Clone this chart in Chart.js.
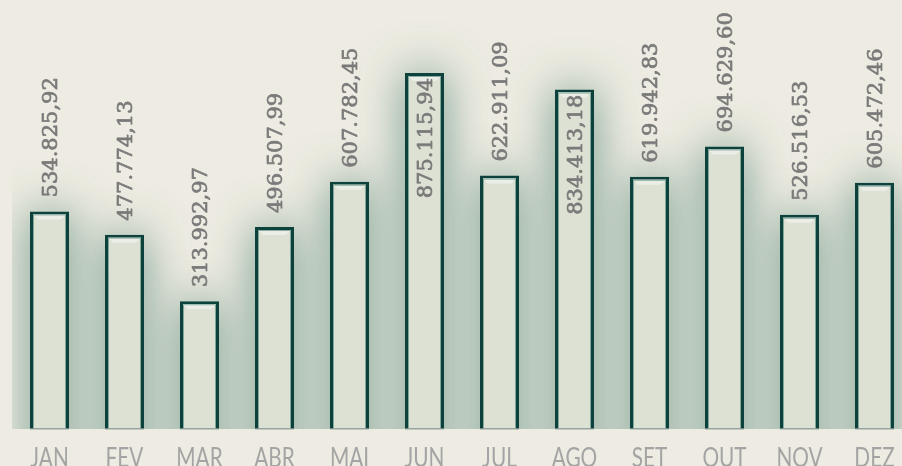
<!DOCTYPE html>
<html>
<head>
<meta charset="utf-8">
<script src="https://cdn.jsdelivr.net/npm/chart.js@4/dist/chart.umd.min.js"></script>
<style>
  html, body { margin: 0; padding: 0; background: #eeece2; overflow: hidden; }
  #wrap { position: absolute; left: 0; top: 0; width: 914px; height: 466px; }
</style>
</head>
<body>
<div id="wrap"><canvas id="c"></canvas></div>
<script>
const categories = ['JAN', 'FEV', 'MAR', 'ABR', 'MAI', 'JUN', 'JUL', 'AGO', 'SET', 'OUT', 'NOV', 'DEZ'];
const values = [534825.92, 477774.13, 313992.97, 496507.99, 607782.45, 875115.94, 622911.09, 834413.18, 619942.83, 694629.60, 526516.53, 605472.46];
const yMin = 0;
const yMax = 1054600;

function fmtBR(v) {
  const parts = v.toFixed(2).split('.');
  const int = parts[0].replace(/\B(?=(\d{3})+(?!\d))/g, '.');
  return int + ',' + parts[1];
}

const glowPlugin = {
  id: 'glow',
  beforeDatasetsDraw(chart) {
    const ctx = chart.ctx;
    const area = chart.chartArea;
    const meta = chart.getDatasetMeta(0);
    ctx.save();
    ctx.beginPath();
    ctx.rect(area.left, area.top, area.right - area.left, area.bottom - area.top);
    ctx.clip();
    const off = 3000;
    ctx.shadowColor = 'rgba(60, 115, 100, 0.7)';
    ctx.shadowBlur = 46;
    ctx.shadowOffsetX = off;
    ctx.fillStyle = '#000';
    meta.data.forEach(bar => {
      const p = bar.getProps(['x', 'y', 'base', 'width'], true);
      ctx.fillRect(p.x - p.width / 2 - off, p.y, p.width, area.bottom + 60 - p.y);
    });
    ctx.restore();
  }
};

const bevelPlugin = {
  id: 'bevel',
  afterDatasetDraw(chart) {
    const ctx = chart.ctx;
    const meta = chart.getDatasetMeta(0);
    ctx.save();
    meta.data.forEach(bar => {
      const p = bar.getProps(['x', 'y', 'base', 'width'], true);
      const l = p.x - p.width / 2 + 3, r = p.x + p.width / 2 - 3;
      const t = p.y + 3, b = p.base - 1;
      ctx.fillStyle = 'rgba(236, 240, 232, 0.9)';
      ctx.beginPath();
      ctx.moveTo(l, t);
      ctx.lineTo(r, t);
      ctx.lineTo(r - 5, t + 5);
      ctx.lineTo(l + 5, t + 5);
      ctx.closePath();
      ctx.fill();
      ctx.strokeStyle = 'rgba(70, 130, 118, 0.6)';
      ctx.lineWidth = 1;
      ctx.beginPath();
      ctx.moveTo(l + 0.5, b);
      ctx.lineTo(l + 0.5, t + 0.5);
      ctx.lineTo(r - 0.5, t + 0.5);
      ctx.lineTo(r - 0.5, b);
      ctx.stroke();
      ctx.fillStyle = 'rgba(130, 150, 145, 0.8)';
      ctx.fillRect(l - 3, b, r - l + 6, 1.5);
    });
    ctx.restore();
  }
};

const labelPlugin = {
  id: 'valueLabels',
  afterDatasetsDraw(chart) {
    const ctx = chart.ctx;
    const meta = chart.getDatasetMeta(0);
    ctx.save();
    ctx.font = '21px "DejaVu Serif"';
    ctx.fillStyle = '#7a7a7a';
    ctx.strokeStyle = '#7a7a7a';
    ctx.lineWidth = 0.7;
    ctx.lineJoin = 'round';
    ctx.textBaseline = 'middle';
    meta.data.forEach((bar, i) => {
      const p = bar.getProps(['x', 'y'], true);
      const txt = fmtBR(values[i]);
      const w = ctx.measureText(txt).width;
      const gap = 14;
      ctx.save();
      if (p.y - gap - w < 4) {
        ctx.translate(p.x + 2, p.y + 5);
        ctx.rotate(-Math.PI / 2);
        ctx.textAlign = 'right';
      } else {
        ctx.translate(p.x + 2, p.y - gap);
        ctx.rotate(-Math.PI / 2);
        ctx.textAlign = 'left';
      }
      ctx.fillText(txt, 0, 0);
      ctx.strokeText(txt, 0, 0);
      ctx.restore();
    });
    ctx.restore();
  }
};

const xLabelPlugin = {
  id: 'xLabels',
  afterDraw(chart) {
    const ctx = chart.ctx;
    const xs = chart.scales.x;
    ctx.save();
    ctx.font = '400 26px Lato';
    ctx.fillStyle = '#a4a4a4';
    ctx.textAlign = 'center';
    ctx.textBaseline = 'alphabetic';
    xs.ticks.forEach((t, i) => {
      const x = xs.getPixelForTick(i);
      ctx.save();
      ctx.translate(x, chart.chartArea.bottom + 38);
      ctx.scale(0.8, 1);
      ctx.fillText(xs.getLabelForValue(t.value), 0, 0);
      ctx.restore();
    });
    ctx.restore();
  }
};

new Chart(document.getElementById('c'), {
  type: 'bar',
  data: {
    labels: categories,
    datasets: [{
      data: values,
      backgroundColor: '#dde1d3',
      borderColor: '#0d423c',
      borderWidth: { top: 3, left: 3, right: 3, bottom: 0 },
      borderSkipped: false,
      barPercentage: 0.52,
      categoryPercentage: 1.0
    }]
  },
  options: {
    responsive: true,
    maintainAspectRatio: false,
    animation: false,
    layout: { padding: { left: 12, right: 2, top: 0, bottom: 37 } },
    plugins: { legend: { display: false }, tooltip: { enabled: false } },
    scales: {
      x: { display: false },
      y: { display: false, min: yMin, max: yMax }
    }
  },
  plugins: [glowPlugin, bevelPlugin, labelPlugin, xLabelPlugin]
});
</script>
</body>
</html>
